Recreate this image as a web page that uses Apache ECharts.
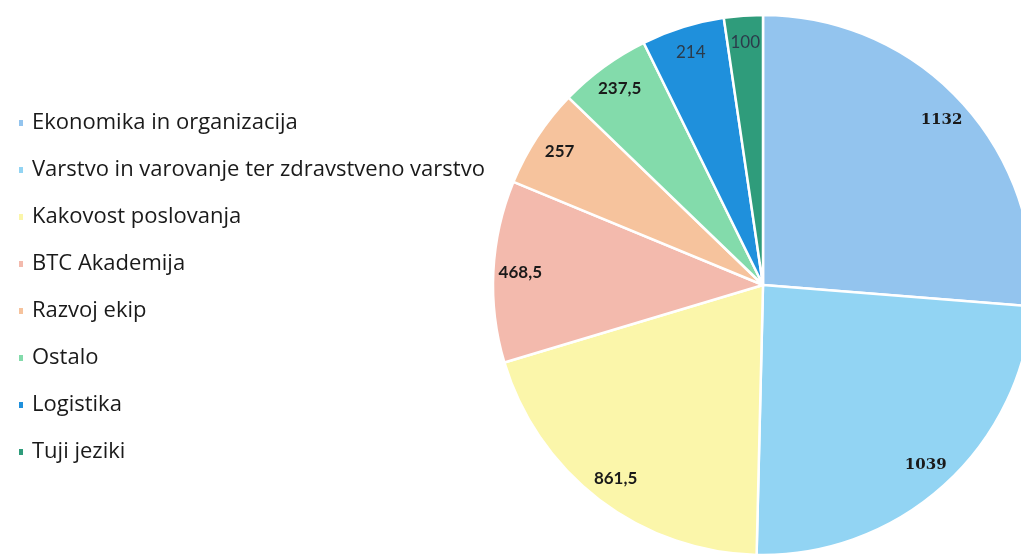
<!DOCTYPE html>
<html>
<head>
<meta charset="utf-8">
<script src="https://cdn.jsdelivr.net/npm/echarts@6/dist/echarts.min.js"></script>
<style>
  html, body { margin: 0; padding: 0; background: #fff; }
  #chart { width: 1021px; height: 557px; }
</style>
</head>
<body>
<div id="chart"></div>
<script>
// podatki
const names = [
  "Ekonomika in organizacija",
  "Varstvo in varovanje ter zdravstveno varstvo",
  "Kakovost poslovanja",
  "BTC Akademija",
  "Razvoj ekip",
  "Ostalo",
  "Logistika",
  "Tuji jeziki"
];
const values = [1132, 1039, 861.5, 468.5, 257, 237.5, 214, 100];
const colors = ["#93c4ee", "#92d4f3", "#fbf6aa", "#f3baad", "#f6c39d", "#83dbab", "#1f90dc", "#2f9c7b"];

var chart = echarts.init(document.getElementById("chart"));

const pieData = names.map((n, i) => ({
  name: n,
  value: values[i],
  itemStyle: { color: colors[i] }
}));

// oznake na zunanjem delu kroga
const labelData = names.map((n, i) => {
  let lbl = {};
  if (i < 2) {
    lbl = { fontFamily: "DejaVu Serif", fontWeight: "bold", fontSize: 15 };
  } else if (i >= 6) {
    lbl = { fontWeight: "normal", color: "#2b3b4b" };
  }
  return { name: n, value: values[i], label: lbl };
});

var option = {
  animation: false,
  backgroundColor: "#fff",
  color: colors,
  legend: {
    orient: "vertical",
    left: 12,
    top: 106,
    itemWidth: 6,
    itemHeight: 8,
    itemGap: 23,
    icon: "rect",
    selectedMode: false,
    textStyle: {
      fontFamily: "Open Sans",
      fontSize: 22,
      color: "#1a1a1a",
      lineHeight: 24,
      padding: [0, 0, 0, 3]
    },
    data: names
  },
  series: [
    {
      type: "pie",
      center: [763, 285],
      radius: [0, 270],
      startAngle: 90,
      clockwise: true,
      silent: true,
      label: { show: false },
      labelLine: { show: false },
      itemStyle: { borderColor: "#fff", borderWidth: 2.5 },
      data: pieData
    },
    {
      type: "pie",
      center: [763, 285],
      radius: [210, 270],
      startAngle: 90,
      clockwise: true,
      silent: true,
      legendHoverLink: false,
      itemStyle: { color: "rgba(0,0,0,0)", borderWidth: 0 },
      label: {
        show: true,
        position: "inside",
        fontFamily: "Lato",
        fontWeight: "bold",
        fontSize: 17,
        color: "#1a1a1a",
        formatter: (p) => String(p.value).replace(".", ",")
      },
      labelLine: { show: false },
      data: labelData
    }
  ]
};

chart.setOption(option);
</script>
</body>
</html>
